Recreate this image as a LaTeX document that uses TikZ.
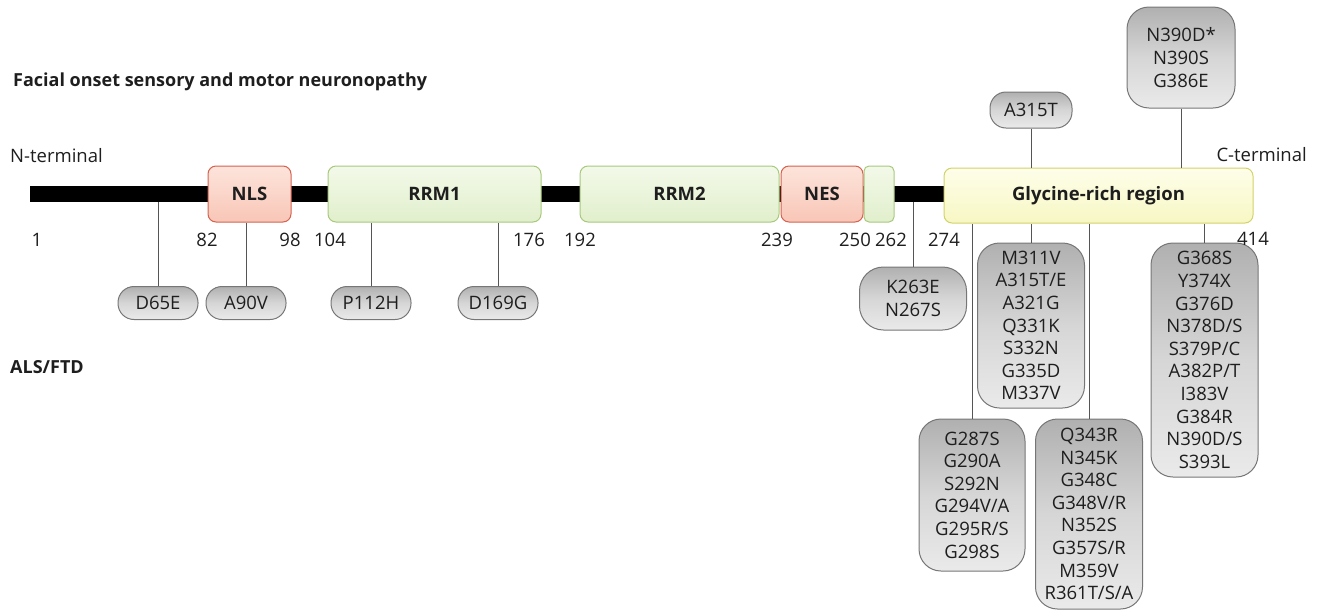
\documentclass[tikz,border=0pt]{standalone}
\usepackage{fontspec}
\setmainfont{Open Sans}
\usepackage{xcolor}
\usetikzlibrary{positioning}
\definecolor{stemgray}{HTML}{555555}
\definecolor{pilledge}{HTML}{767676}
\definecolor{pilltop}{HTML}{B0B0B0}
\definecolor{pillmid}{HTML}{D6D6D6}
\definecolor{pillbot}{HTML}{EAEAEA}
\definecolor{sigedge}{HTML}{D5614E}
\definecolor{sigtop}{HTML}{FDE4DB}
\definecolor{sigbot}{HTML}{F8C6B7}
\definecolor{rrmedge}{HTML}{A8C97C}
\definecolor{rrmtop}{HTML}{F3F9E9}
\definecolor{rrmbot}{HTML}{E1EFCC}
\definecolor{glyedge}{HTML}{D2D26A}
\definecolor{glytop}{HTML}{FEFEEA}
\definecolor{glybot}{HTML}{F7F7C4}
\definecolor{ink}{HTML}{1E1E1E}
\newcommand{\txt}{\fontsize{18.5}{22.6}\selectfont}

\begin{document}
\begin{tikzpicture}[x=1pt,y=-1pt,font=\txt,text=ink,
  dombox/.style={draw,line width=1pt,rounded corners=8pt,minimum height=56pt,inner sep=0pt,font=\txt\bfseries},
  sig/.style={dombox,draw=sigedge,top color=sigtop,bottom color=sigbot},
  rrm/.style={dombox,draw=rrmedge,top color=rrmtop,bottom color=rrmbot},
  gly/.style={dombox,draw=glyedge,top color=glytop,bottom color=glybot},
  mut/.style={draw=pilledge,line width=1pt,top color=pilltop,bottom color=pillbot,middle color=pillmid,rounded corners=16pt,inner sep=0pt,align=center,minimum width=80pt,minimum height=33pt},
  mutbox/.style={mut,rounded corners=22pt,minimum width=107pt},
  num/.style={anchor=base,inner sep=0pt},
  stem/.style={stemgray,line width=1pt}]
  \useasboundingbox (0,0) rectangle (1322,611);

  % headings
  \node[anchor=base west,inner sep=0pt,font=\fontsize{18}{22}\selectfont\bfseries] (fosmn) at (13,86) {Facial onset sensory and motor neuronopathy};
  \node[anchor=base west,inner sep=0pt,font=\fontsize{18}{22}\selectfont\bfseries] (als) at (10,373) {ALS/FTD};
  \node[anchor=base west,inner sep=0pt] (nterm) at (10,162) {N-terminal};
  \node[anchor=base east,inner sep=0pt] (cterm) at (1307,161) {C-terminal};

  % protein backbone and domains
  \node[fill=black,minimum width=920pt,minimum height=16pt,inner sep=0pt] (chain) at (490,194) {};
  \node[sig,minimum width=83pt] (nls) at (249.5,194) {NLS};
  \node[rrm,minimum width=213pt] (rrm1) at (434.5,194) {RRM1};
  \node[rrm,minimum width=199pt] (rrm2) at (679.5,194) {RRM2};
  \node[sig,minimum width=82pt] (nes) at (822,194) {NES};
  \node[rrm,minimum width=30pt,rounded corners=5pt] (link) at (879,194) {};
  \node[gly,minimum width=309pt,minimum height=55pt] (gly) at (1098.5,195.5) {Glycine-rich region};

  % FOSMN variants
  \node[mut,minimum width=82pt,minimum height=36pt] (a315t) at (1031,110) {A315T};
  \node[mutbox,minimum width=108pt,minimum height=101pt] (n390) at (1181,57.5) {N390D*\\N390S\\G386E};

  % ALS/FTD variants
  \node[mut] (d65e) at (158,303) {D65E};
  \node[mut] (a90v) at (246,303) {A90V};
  \node[mut] (p112h) at (371,303) {P112H};
  \node[mut] (d169g) at (498,303) {D169G};
  \node[mutbox,minimum height=63pt,rounded corners=24pt] (k263e) at (913,298.5) {K263E\\N267S};
  \node[mutbox,minimum width=106pt,minimum height=152pt] (g287) at (972,495) {G287S\\G290A\\S292N\\G294V/A\\G295R/S\\G298S};
  \node[mutbox,minimum height=165pt] (m311) at (1031,325.5) {M311V\\A315T/E\\A321G\\Q331K\\S332N\\G335D\\M337V};
  \node[mutbox,minimum height=190pt] (q343) at (1089,514) {Q343R\\N345K\\G348C\\G348V/R\\N352S\\G357S/R\\M359V\\R361T/S/A};
  \node[mutbox,minimum height=234pt] (g368) at (1204.5,360) {G368S\\Y374X\\G376D\\N378D/S\\S379P/C\\A382P/T\\I383V\\G384R\\N390D/S\\S393L};

  % residue numbers
  \node[num] (p1) at (37,246) {1};
  \node[num] (p82) at (207,246) {82};
  \node[num] (p98) at (290,246) {98};
  \node[num] (p104) at (330,246) {104};
  \node[num] (p176) at (529,246) {176};
  \node[num] (p192) at (580,246) {192};
  \node[num] (p239) at (777,246) {239};
  \node[num] (p250) at (855,246) {250};
  \node[num] (p262) at (891,246) {262};
  \node[num] (p274) at (944,246) {274};
  \node[num] (p414) at (1253,245) {414};

  % stems
  \draw[stem] (a315t.south) -- (a315t.south |- gly.north);
  \draw[stem] (n390.south) -- (n390.south |- gly.north);
  \draw[stem] (d65e.north) -- (d65e.north |- chain.south);
  \draw[stem] (a90v.north) -- (a90v.north |- nls.south);
  \draw[stem] (p112h.north) -- (p112h.north |- rrm1.south);
  \draw[stem] (d169g.north) -- (d169g.north |- rrm1.south);
  \draw[stem] (k263e.north) -- (k263e.north |- chain.south);
  \draw[stem] (g287.north) -- (g287.north |- gly.south);
  \draw[stem] (m311.north) -- (m311.north |- gly.south);
  \draw[stem] (q343.north) -- (q343.north |- gly.south);
  \draw[stem] (g368.north) -- (g368.north |- gly.south);
\end{tikzpicture}
\end{document}
